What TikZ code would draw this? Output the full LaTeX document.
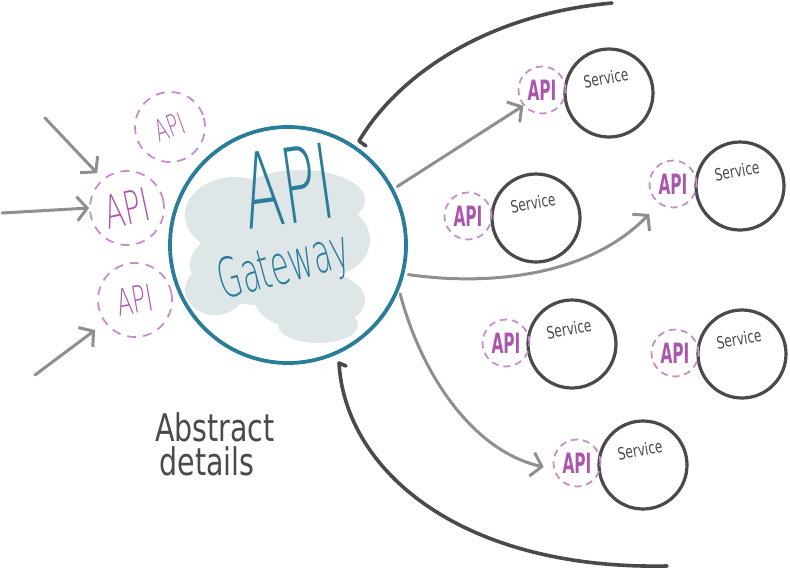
\documentclass[tikz,border=0pt]{standalone}
\usepackage{fontspec}
\usepackage{tikz}
\usepackage{xcolor}
\usetikzlibrary{arrows.meta,positioning,calc}

\newfontfamily\thinfont{DejaVu Sans ExtraLight}
\newfontfamily\handfont{DejaVu Sans}
\newcommand{\squeezed}[2]{\scalebox{#1}[1]{#2}}

\definecolor{gwteal}{HTML}{2A7D9A}
\definecolor{apipurple}{HTML}{AC55AC}
\definecolor{dashpurple}{HTML}{C98CCB}
\definecolor{arrowgray}{HTML}{8F8F8F}
\definecolor{darkline}{HTML}{4A4A4A}
\definecolor{cloudgray}{HTML}{D8E2E4}

\tikzset{
    gateway/.style={draw=gwteal, line width=3.8pt, circle, minimum size=236pt, inner sep=0pt},
    gwtext/.style={text=gwteal, inner sep=0pt},
    svc/.style={draw=darkline, line width=3.2pt, circle, minimum size=88pt, inner sep=0pt},
    svclabel/.style={text=darkline, rotate=10, inner sep=0pt, font=\handfont\fontsize{17}{17}\selectfont},
    apitag/.style={draw=dashpurple, dash pattern=on 7pt off 5pt, line width=1.8pt, circle,
        minimum size=47pt, inner sep=0pt, text=apipurple, font=\handfont\bfseries\fontsize{28}{28}\selectfont},
    inapi/.style={draw=dashpurple, dash pattern=on 9pt off 7pt, line width=1.8pt, circle,
        inner sep=0pt, text=apipurple},
    flow/.style={draw=arrowgray, line width=3pt, line cap=round,
        -{Straight Barb[length=10pt,width=24pt]}},
    bigarc/.style={draw=darkline, line width=3.6pt, line cap=round, line join=round}
}

\begin{document}
\begin{tikzpicture}[x=1pt,y=-1pt]
    \useasboundingbox (0,0) rectangle (790,574);

    % wash behind the gateway
    \fill[cloudgray, opacity=0.85] (235,215) ellipse (50pt and 38pt)
        (300,200) ellipse (65pt and 30pt) (330,240) ellipse (40pt and 35pt)
        (260,265) ellipse (70pt and 40pt) (310,300) ellipse (55pt and 30pt)
        (318,325) ellipse (40pt and 18pt) (215,290) ellipse (30pt and 25pt);

    \node[gateway] (gw) at (288,245) {};
    \node[gwtext, rotate=8, font=\thinfont\fontsize{104}{104}\selectfont] (gwapi) at (288,186) {\squeezed{0.55}{API}};
    \node[gwtext, rotate=15, font=\thinfont\fontsize{55}{55}\selectfont] (gwname) at (284,268) {\squeezed{0.55}{Gateway}};

    % client side
    \node[inapi, minimum size=70pt, rotate=20, font=\thinfont\fontsize{30}{30}\selectfont] (la1) at (170,127) {\squeezed{0.62}{API}};
    \node[inapi, minimum size=74pt, rotate=12, font=\thinfont\fontsize{46}{46}\selectfont] (la2) at (127,208) {\squeezed{0.62}{API}};
    \node[inapi, minimum size=74pt, rotate=10, font=\thinfont\fontsize{37}{37}\selectfont] (la3) at (135,300) {\squeezed{0.62}{API}};

    \coordinate (in1) at (45,118);
    \coordinate (in2) at (2,213);
    \coordinate (in3) at (35,375);

    \draw[flow, shorten >=8pt] (in1) -- (la2.118);
    \draw[flow] (in2) -- (la2.168);
    \draw[flow, shorten >=12pt] (in3) -- (la3.207);

    % services
    \node[svc] (s1) at (609,93) {};
    \node[svc] (s2) at (740,186) {};
    \node[svc] (s3) at (536,218) {};
    \node[svc] (s4) at (572,344) {};
    \node[svc] (s5) at (742,354) {};
    \node[svc] (s6) at (643,465) {};

    \node[svclabel] (s1t) at ([xshift=-3pt,yshift=15pt]s1.center) {\squeezed{0.72}{Service}};
    \node[svclabel] (s2t) at ([xshift=-3pt,yshift=15pt]s2.center) {\squeezed{0.72}{Service}};
    \node[svclabel] (s3t) at ([xshift=-3pt,yshift=15pt]s3.center) {\squeezed{0.72}{Service}};
    \node[svclabel] (s4t) at ([xshift=-3pt,yshift=15pt]s4.center) {\squeezed{0.72}{Service}};
    \node[svclabel] (s5t) at ([xshift=-3pt,yshift=15pt]s5.center) {\squeezed{0.72}{Service}};
    \node[svclabel] (s6t) at ([xshift=-3pt,yshift=15pt]s6.center) {\squeezed{0.72}{Service}};

    \node[apitag] (a1) at (542,90) {\squeezed{0.55}{API}};
    \node[apitag] (a2) at (673,184) {\squeezed{0.55}{API}};
    \node[apitag] (a3) at (468,216) {\squeezed{0.55}{API}};
    \node[apitag] (a4) at (506,343) {\squeezed{0.55}{API}};
    \node[apitag] (a5) at (675,353) {\squeezed{0.55}{API}};
    \node[apitag] (a6) at (577,463) {\squeezed{0.55}{API}};

    \draw[flow, shorten <=4pt] (gw.28) -- (a1.220);
    \draw[flow, shorten <=4pt, shorten >=14pt] (gw.-14) .. controls (480,285) and (585,280) .. (a2.235);
    \draw[flow, shorten <=4pt, shorten >=10pt] (gw.-22) .. controls (420,370) and (470,450) .. (a6.195);

    % boundary arcs
    \draw[bigarc] (366,146) -- (359,141) .. controls (395,80) and (480,15) .. (612,3);
    \draw[bigarc] (346,366) -- (339,363) .. controls (345,470) and (460,570) .. (667,566);

    \node[text=darkline, font=\handfont\fontsize{38}{38}\selectfont] (note1) at (215,427) {\squeezed{0.75}{Abstract}};
    \node[text=darkline, font=\handfont\fontsize{38}{38}\selectfont] (note2) at (207,461) {\squeezed{0.75}{details}};
\end{tikzpicture}
\end{document}
